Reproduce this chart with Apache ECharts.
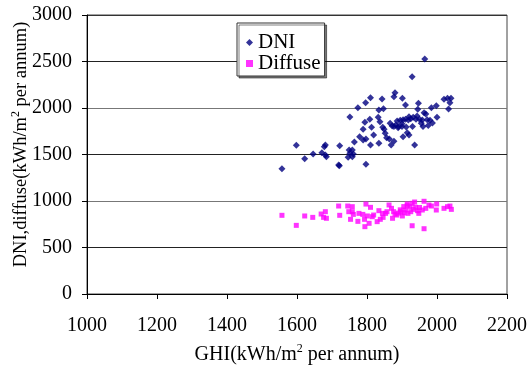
<!DOCTYPE html>
<html><head><meta charset="utf-8">
<script src="https://cdn.jsdelivr.net/npm/echarts@6/dist/echarts.min.js"></script>
<style>html,body{margin:0;padding:0;background:#fff}#c{width:532px;height:365px}</style>
</head><body><div id="c"></div>
<script>
const xTicks = [1000,1200,1400,1600,1800,2000,2200];
const yTicks = [0,500,1000,1500,2000,2500,3000];
const dniGHI = [1965,1929,1880,1877,1810,1796,1843,1901,1910,1947,1945,1774,1834,1847,1751,2020,2030,2040,2037,2033,1998,1984,2000,1963,1968,
  1886,1895,1903,1910,1918,1925,1932,1940,1950,1958,1972,1980,1987,1975,1960,1930,1912,1900,1890,1877,1866,1872,1882,1889,
  1808,1794,1832,1837,1813,1789,1845,1849,1852,1856,1864,1819,1779,1789,1797,1810,1834,1764,1869,1877,1903,1915,1920,1936,
  1749,1758,1751,1761,1746,1758,1722,1719,1721,1797,1681,1678,1671,1681,1684,1646,1622,1598,1557,1900,1920,1943,1955];
const dniVal = [2527,2337,2165,2122,2111,2057,2097,2104,2032,2050,1986,2003,1978,1993,1903,2093,2104,2104,2057,1989,2025,2003,1900,1950,1935,
  1860,1868,1875,1880,1872,1885,1900,1880,1878,1870,1875,1868,1840,1812,1800,1800,1795,1800,1800,1800,1835,1806,1817,1788,
  1878,1846,1900,1853,1792,1771,1792,1771,1728,1681,1667,1710,1692,1656,1667,1602,1620,1634,1602,1642,1692,1735,1710,1602,
  1548,1548,1513,1505,1470,1477,1595,1387,1380,1394,1602,1584,1520,1495,1477,1505,1455,1599,1348,1830,1905,1915,1835];
const diffGHI = [1557,1598,1622,1645,1669,1681,1676,1684,1719,1722,1745,1758,1748,1758,1753,1774,1761,1777,1788,1797,1810,
  1794,1806,1793,1801,1815,1819,1834,1844,1829,1838,1846,1853,1857,1863,1870,1876,1873,1885,1896,1901,1906,
  1915,1923,1929,1936,1910,1917,1925,1932,1939,1944,1948,1929,1963,1963,1958,1968,1977,1984,1999,1998,2020,2030,2037,2041,
  1880,1890,1895,1950,1915,1905];
const diffVal = [846,738,839,824,860,885,824,814,946,846,946,939,885,885,803,781,856,867,856,967,932,
  724,760,803,839,831,849,896,867,778,803,824,867,885,957,921,885,814,849,885,839,874,
  968,939,975,989,903,867,885,910,932,896,867,734,997,702,903,921,957,946,968,903,921,939,946,910,
  860,870,905,930,950,940];
const dniData = dniGHI.map((x,i)=>[x,dniVal[i]]);
const diffData = diffGHI.map((x,i)=>[x,diffVal[i]]);
const FONT = 'Liberation Serif';
const chart = echarts.init(document.getElementById('c'), null, {renderer:'canvas'});
chart.setOption({
  animation:false,
  backgroundColor:'#fff',
  grid:{left:87,right:25,top:15,bottom:71,containLabel:false,outerBoundsMode:'none',show:true,borderColor:'#444',borderWidth:1,backgroundColor:'transparent'},
  legend:{
    left:237, top:23, orient:'vertical',
    backgroundColor:'#fff', borderColor:'#333', borderWidth:1,
    padding:[9,4,2,9], itemGap:0, itemWidth:7, itemHeight:7,
    shadowColor:'rgba(0,0,0,0.5)', shadowOffsetX:2, shadowOffsetY:2, shadowBlur:0,
    textStyle:{fontFamily:FONT,fontSize:21,color:'#000',lineHeight:21},
    data:[{name:'DNI',icon:'diamond'},{name:'Diffuse',icon:'rect'}]
  },
  xAxis:{
    type:'value', min:xTicks[0], max:xTicks[xTicks.length-1], interval:200,
    name:'GHI(kWh/m{sup|2} per annum)', nameLocation:'middle', nameGap:49, nameMoveOverlap:false,
    nameTextStyle:{fontFamily:FONT,fontSize:20,color:'#000',rich:{sup:{fontSize:12,verticalAlign:'top',padding:[0,0,11,0],fontFamily:FONT}}},
    axisLine:{lineStyle:{color:'#000',width:1}},
    axisTick:{show:true,inside:false,length:5,lineStyle:{color:'#000'}},
    axisLabel:{fontFamily:FONT,fontSize:20,color:'#000',margin:22,formatter:v=>String(v)},
    splitLine:{show:false}
  },
  yAxis:{
    type:'value', min:yTicks[0], max:yTicks[yTicks.length-1], interval:500,
    name:'DNI,diffuse(kWh/m{sup|2} per annum)', nameLocation:'middle', nameGap:55, nameMoveOverlap:false,
    nameTextStyle:{fontFamily:FONT,fontSize:18.5,color:'#000',padding:[0,0,0,20],rich:{sup:{fontSize:12,verticalAlign:'top',padding:[0,0,10,0],fontFamily:FONT}}},
    axisLine:{show:true,lineStyle:{color:'#000',width:1}},
    axisTick:{show:true,inside:false,length:5,lineStyle:{color:'#000'}},
    axisLabel:{fontFamily:FONT,fontSize:20,color:'#000',margin:15,formatter:v=>String(v)},
    splitLine:{show:true,lineStyle:{color:['#000','#222','#777','#222','#777','#222','#333'],width:1}}
  },
  series:[
    {name:'DNI',type:'scatter',symbol:'diamond',symbolSize:7,itemStyle:{color:'#000080'},data:dniData,z:3},
    {name:'Diffuse',type:'scatter',symbol:'rect',symbolSize:5,itemStyle:{color:'#ff00ff'},data:diffData,z:2}
  ]
});
</script></body></html>
